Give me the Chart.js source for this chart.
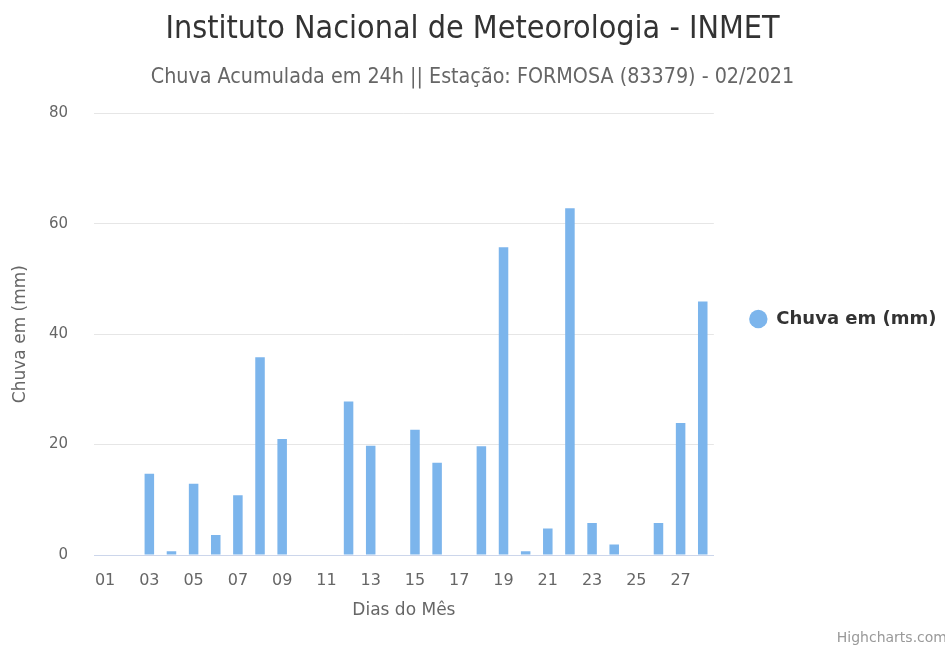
<!DOCTYPE html>
<html>
<head>
<meta charset="utf-8">
<script src="https://cdn.jsdelivr.net/npm/chart.js@4"></script>
<style>
  html, body { margin: 0; padding: 0; background: #fff; }
  #wrap { width: 945px; height: 651px; position: relative; }
</style>
</head>
<body>
<div id="wrap"><canvas id="chuvaChart"></canvas></div>
<script>
// dias do mes (02/2021)
const dias = ['01','02','03','04','05','06','07','08','09','10','11','12','13','14',
              '15','16','17','18','19','20','21','22','23','24','25','26','27','28'];
// chuva acumulada em 24h (mm)
const chuva = [0, 0, 14.7, 0.7, 12.9, 3.6, 10.8, 35.8, 21, 0, 0, 27.8, 19.8, 0,
               22.7, 16.7, 0, 19.7, 55.7, 0.7, 4.8, 62.8, 5.8, 1.9, 0, 5.8, 23.9, 45.9];
const yTicks = [0, 20, 40, 60, 80];

const fonte = '"DejaVu Sans", Verdana, sans-serif';
const fonteTitulo = '"DejaVu Sans Condensed", ' + fonte;

// legenda a direita, um pouco acima do centro (como no highcharts)
const posLegenda = {
    id: 'posLegenda',
    afterLayout(chart) {
        const lg = chart.legend;
        const h = lg.bottom - lg.top;
        lg.left = chart.chartArea.right + 25.5;
        lg.right = lg.left + lg.width;
        lg.top = 300;
        lg.bottom = lg.top + h;
    }
};

// credito no canto
const creditos = {
    id: 'creditos',
    afterDraw(chart) {
        const ctx = chart.ctx;
        ctx.save();
        ctx.font = '14px ' + fonte;
        ctx.fillStyle = '#999';
        ctx.textAlign = 'right';
        ctx.textBaseline = 'middle';
        ctx.fillText('Highcharts.com', 947, 638);
        ctx.restore();
    }
};

const ctx = document.getElementById('chuvaChart').getContext('2d');
const chuvaChart = new Chart(ctx, {
    type: 'bar',
    data: {
        labels: dias,
        datasets: [{
            label: 'Chuva em (mm)',
            data: chuva,
            backgroundColor: '#7cb5ec',
            borderWidth: 0,
            barPercentage: 0.43,
            categoryPercentage: 1
        }]
    },
    options: {
        responsive: true,
        maintainAspectRatio: false,
        animation: false,
        layout: { padding: { top: 10, right: 24, bottom: 32, left: 24 } },
        plugins: {
            title: {
                display: true,
                text: 'Instituto Nacional de Meteorologia - INMET',
                color: '#333',
                font: { family: fonteTitulo, size: 32, weight: 'normal' },
                padding: { top: 0, bottom: 16 }
            },
            subtitle: {
                display: true,
                text: 'Chuva Acumulada em 24h || Estação: FORMOSA (83379) - 02/2021',
                color: '#666',
                font: { family: fonteTitulo, size: 21.3 },
                padding: { top: 0, bottom: 23.2 }
            },
            legend: {
                position: 'right',
                align: 'start',
                labels: {
                    usePointStyle: true,
                    pointStyle: 'circle',
                    boxWidth: 29,
                    boxHeight: 13,
                    color: '#333',
                    padding: 10,
                    font: { family: fonte, size: 18, weight: 'bold' }
                }
            },
            tooltip: { enabled: false }
        },
        scales: {
            x: {
                afterFit: axis => { axis.height = 64; },
                grid: { display: false },
                border: { color: '#ccd6eb' },
                ticks: {
                    autoSkip: false,
                    maxRotation: 0,
                    color: '#666',
                    font: { family: fonte, size: 16 },
                    padding: 8,
                    callback: (v, i) => (i % 2 === 0 ? dias[i] : '')
                },
                title: {
                    display: true,
                    text: 'Dias do Mês',
                    color: '#666',
                    font: { family: fonte, size: 17 },
                    padding: { top: 0, bottom: -2 }
                }
            },
            y: {
                min: 0,
                max: 80,
                afterBuildTicks: axis => { axis.ticks = yTicks.map(v => ({ value: v })); },
                afterFit: axis => { axis.width = 70; },
                grid: { color: '#e6e6e6', drawTicks: false },
                border: { display: false },
                ticks: {
                    color: '#666',
                    font: { family: fonte, size: 15 },
                    padding: 26
                },
                title: {
                    display: true,
                    text: 'Chuva em (mm)',
                    color: '#666',
                    font: { family: fonte, size: 17 },
                    padding: { top: -14, bottom: 0 }
                }
            }
        }
    },
    plugins: [posLegenda, creditos]
});
</script>
</body>
</html>
